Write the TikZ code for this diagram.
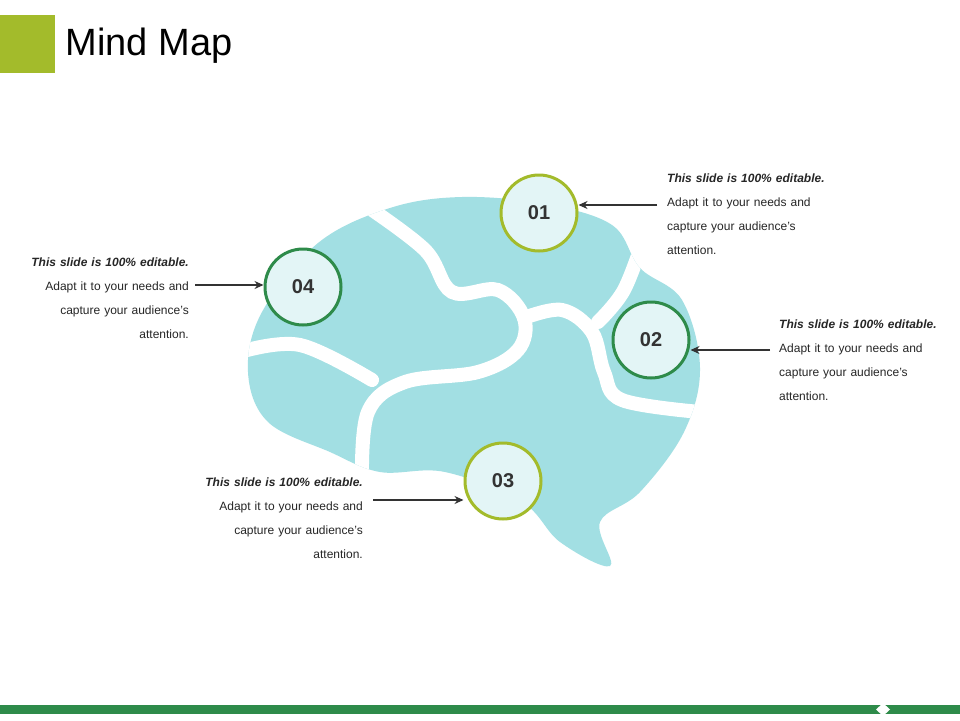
\documentclass[tikz,border=0pt]{standalone}
\usepackage{fontspec}
\setmainfont{Liberation Sans}
\usetikzlibrary{positioning,arrows.meta}
\definecolor{olive}{HTML}{A3BB2B}
\definecolor{leaf}{HTML}{2E8B4A}
\definecolor{brain}{HTML}{A2DFE3}
\definecolor{pale}{HTML}{E3F5F6}
\tikzset{
  num/.style={circle,draw=#1,line width=3pt,fill=pale,minimum size=76pt,inner sep=0pt,font=\fontsize{20}{20}\selectfont\bfseries,text=black!80},
  note/.style={text width=200pt,font=\fontsize{12}{24}\selectfont,text=black!85,inner sep=0pt},
  gap/.style={white,line width=14pt,line cap=round},
  pointer/.style={-{Stealth[length=9pt,width=8pt]},line width=1.3pt,black!80}
}
\newcommand{\notetext}{\textbf{\textit{This slide is 100\% editable.}}\\Adapt it to your needs and\\capture your audience's\\attention.}
\begin{document}
\begin{tikzpicture}[x=1pt,y=-1pt]
\useasboundingbox (0,0) rectangle (960,720);
\fill[white] (0,0) rectangle (960,720);
% title
\fill[olive] (0,15) rectangle (55,73);
\node[anchor=west,font=\fontsize{38}{38}\selectfont] (title) at (62,46) {Mind Map};
% brain
\fill[brain] plot[smooth cycle,tension=0.6] coordinates {(248,372) (262,312) (318,243) (390,208) (462,197) (545,204) (612,225) (640,268) (682,300) (700,368) (684,432) (640,492) (600,522) (610,566) (560,542) (522,502) (445,472) (380,472) (330,452) (268,422)};
\begin{scope}
\clip plot[smooth cycle,tension=0.6] coordinates {(248,372) (262,312) (318,243) (390,208) (462,197) (545,204) (612,225) (640,268) (682,300) (700,368) (684,432) (640,492) (600,522) (610,566) (560,542) (522,502) (445,472) (380,472) (330,452) (268,422)};
\draw[gap] plot[smooth,tension=0.6] coordinates {(365,205) (425,250) (452,292) (498,290) (524,318) (518,350) (478,372) (405,382) (368,412) (362,480)};
\draw[gap] plot[smooth,tension=0.6] coordinates {(240,352) (300,345) (372,380)};
\draw[gap] plot[smooth,tension=0.6] coordinates {(524,318) (562,310) (592,332) (604,372) (622,400) (700,412)};
\draw[gap] plot[smooth,tension=0.6] coordinates {(645,235) (624,290) (598,322)};
\end{scope}
% numbered circles
\node[num=olive] (n1) at (539,213) {01};
\node[num=leaf] (n2) at (651,340) {02};
\node[num=olive] (n3) at (503,481) {03};
\node[num=leaf] (n4) at (303,287) {04};
% notes
\node[note,anchor=north west,align=left] (t1) at (667,174) {\notetext};
\node[note,anchor=north west,align=left] (t2) at (779,320) {\notetext};
\node[note,anchor=north east,align=right] (t3) at (363,478) {\notetext};
\node[note,anchor=north east,align=right] (t4) at (189,258) {\notetext};
\coordinate (a1) at (657,205);
\coordinate (a2) at (770,350);
\coordinate (a3) at (373,500);
\coordinate (a4) at (195,285);
\draw[pointer] (a1) -- (n1.east|-a1);
\draw[pointer] (a2) -- (n2.east|-a2);
\draw[pointer] (a3) -- (n3.west|-a3);
\draw[pointer] (a4) -- (n4.west|-a4);
% bottom bar
\fill[leaf] (0,705) rectangle (960,714);
\fill[white] (883,703) -- (890,709.5) -- (883,716) -- (876,709.5) -- cycle;
\end{tikzpicture}
\end{document}
